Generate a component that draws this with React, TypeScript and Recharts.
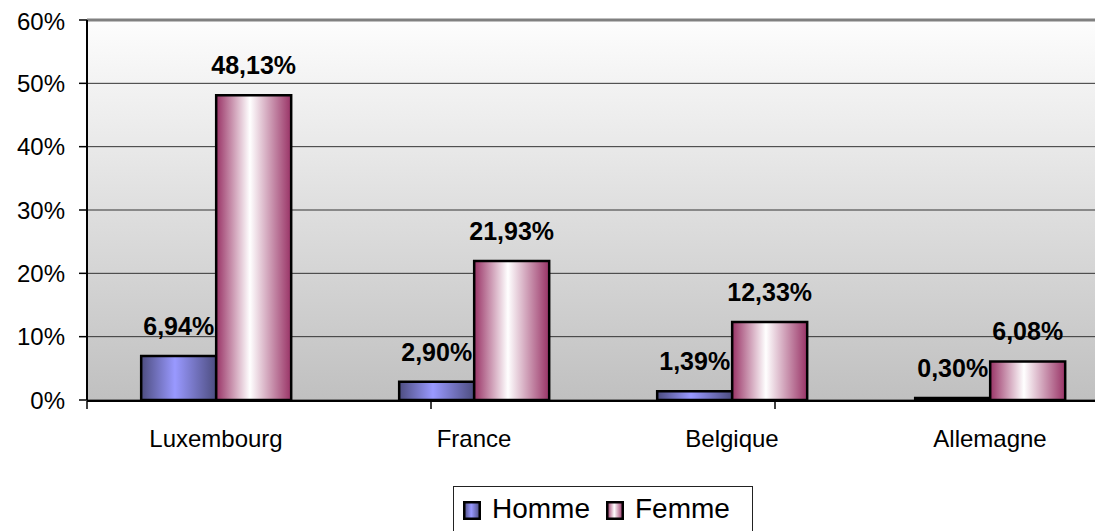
import { Bar, BarChart, CartesianGrid, LabelList, ReferenceLine, XAxis, YAxis } from 'recharts'

const categories = ['Luxembourg', 'France', 'Belgique', 'Allemagne']
const hommeValues = [6.94, 2.9, 1.39, 0.3]
const femmeValues = [48.13, 21.93, 12.33, 6.08]
const yTicks = [0, 10, 20, 30, 40, 50, 60]
const edgeTicks = [0, 1, 2, 3, 4]

const data = categories.map((name, i) => ({
  name,
  homme: hommeValues[i],
  femme: femmeValues[i],
}))

const FONT = 'Arial, "Liberation Sans", sans-serif'

const formatPct = (v: number) => `${v.toFixed(2).replace('.', ',')}%`

function LegendIcon({ gradient }: { gradient: string }) {
  return (
    <svg width={18} height={19} style={{ display: 'block' }}>
      <defs>
        <linearGradient id={`lg-${gradient}`} x1="0" y1="0" x2="1" y2="0">
          {gradient === 'homme' ? (
            <>
              <stop offset="0" stopColor="#4d4d80" />
              <stop offset="0.45" stopColor="#9999ff" />
              <stop offset="1" stopColor="#4d4d80" />
            </>
          ) : (
            <>
              <stop offset="0" stopColor="#993366" />
              <stop offset="0.45" stopColor="#ffffff" />
              <stop offset="1" stopColor="#993366" />
            </>
          )}
        </linearGradient>
      </defs>
      <rect x={1.25} y={1.25} width={15.5} height={16.5} fill={`url(#lg-${gradient})`} stroke="#000" strokeWidth={2.5} />
    </svg>
  )
}

export default function App() {
  return (
    <div style={{ position: 'relative', width: 1095, height: 523, overflow: 'hidden', fontFamily: FONT }}>
      <BarChart
        width={1111}
        height={523}
        data={data}
        margin={{ top: 12, right: 0, left: 0, bottom: 129 }}
        barCategoryGap="21%"
        barGap={0}
      >
        <defs>
          <linearGradient id="bgGrad" x1="0" y1="0" x2="0" y2="1">
            <stop offset="0" stopColor="#fdfdfd" />
            <stop offset="1" stopColor="#c0c0c0" />
          </linearGradient>
          <linearGradient id="hommeGrad" x1="0" y1="0" x2="1" y2="0">
            <stop offset="0" stopColor="#4d4d80" />
            <stop offset="0.45" stopColor="#9999ff" />
            <stop offset="1" stopColor="#4d4d80" />
          </linearGradient>
          <linearGradient id="femmeGrad" x1="0" y1="0" x2="1" y2="0">
            <stop offset="0" stopColor="#993366" />
            <stop offset="0.45" stopColor="#ffffff" />
            <stop offset="1" stopColor="#993366" />
          </linearGradient>
        </defs>
        <CartesianGrid xAxisId="cat" vertical={false} stroke="#333" fill="url(#bgGrad)" fillOpacity={1} />
        <XAxis
          xAxisId="edges"
          type="number"
          domain={[0, 4]}
          ticks={edgeTicks}
          height={1}
          tickFormatter={() => ''}
          tickSize={8}
          axisLine={{ stroke: '#000', strokeWidth: 2 }}
          tickLine={{ stroke: '#000', strokeWidth: 1.5 }}
        />
        <XAxis
          xAxisId="cat"
          dataKey="name"
          height={1}
          axisLine={false}
          tickLine={false}
          tickSize={0}
          tickMargin={30}
          interval={0}
          tick={{ fill: '#000', fontSize: 24, fontFamily: FONT }}
        />
        <YAxis
          width={79}
          domain={[0, 60]}
          ticks={yTicks}
          tickFormatter={(v: number) => `${v}%`}
          tickSize={8}
          tickMargin={14}
          axisLine={{ stroke: '#000', strokeWidth: 2 }}
          tickLine={{ stroke: '#000', strokeWidth: 1.5 }}
          tick={{ fill: '#000', fontSize: 24, fontFamily: FONT }}
        />
        <ReferenceLine xAxisId="cat" y={60} stroke="#808080" strokeWidth={3} />
        <Bar xAxisId="cat" dataKey="homme" fill="url(#hommeGrad)" stroke="#000" strokeWidth={2.5} isAnimationActive={false}>
          <LabelList
            dataKey="homme"
            position="top"
            offset={21}
            formatter={(v: number) => formatPct(v)}
            fill="#000"
            fontSize={25}
            fontWeight="bold"
            fontFamily={FONT}
          />
        </Bar>
        <Bar xAxisId="cat" dataKey="femme" fill="url(#femmeGrad)" stroke="#000" strokeWidth={2.5} isAnimationActive={false}>
          <LabelList
            dataKey="femme"
            position="top"
            offset={21}
            formatter={(v: number) => formatPct(v)}
            fill="#000"
            fontSize={25}
            fontWeight="bold"
            fontFamily={FONT}
          />
        </Bar>
      </BarChart>
      <div
        style={{
          position: 'absolute',
          left: 445,
          top: 478,
          width: 300,
          height: 60,
          border: '1px solid #222',
          background: '#fff',
          boxSizing: 'border-box',
          display: 'flex',
          alignItems: 'flex-start',
          paddingLeft: 9,
          paddingTop: 6,
          fontSize: 28,
          lineHeight: '32px',
          color: '#000',
        }}
      >
        <div style={{ marginTop: 8 }}>
          <LegendIcon gradient="homme" />
        </div>
        <span style={{ marginLeft: 11 }}>Homme</span>
        <div style={{ marginTop: 8, marginLeft: 16 }}>
          <LegendIcon gradient="femme" />
        </div>
        <span style={{ marginLeft: 11 }}>Femme</span>
      </div>
    </div>
  )
}
